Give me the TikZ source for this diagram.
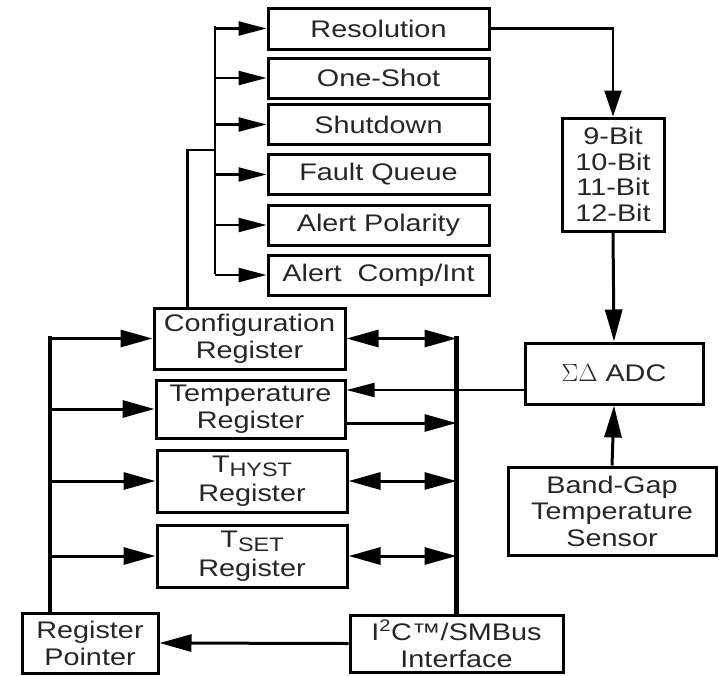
\documentclass[tikz,border=0pt]{standalone}
\usepackage{fontspec}
\setmainfont{Liberation Sans}[FakeStretch=1.2]
\usetikzlibrary{arrows.meta,calc}
\begin{document}
\begin{tikzpicture}[x=1pt,y=-1pt,
  blk/.style={draw, line width=3pt, inner sep=0pt, align=center,
    font=\fontsize{24}{27}\selectfont, text=black!85},
  arr/.style={line width=3pt, -{Triangle[length=32pt,width=17pt]}},
  tarr/.style={line width=2.4pt, -{Triangle[length=28pt,width=14pt]}},
  darr/.style={line width=3pt, {Triangle[length=32pt,width=17pt]}-{Triangle[length=32pt,width=17pt]}},
  bus/.style={line width=4.5pt, line cap=rect},
  tbus/.style={line width=2.8pt, line cap=rect}]
\useasboundingbox (0,0) rectangle (719,675);
% top configuration boxes
\node[blk, minimum width=221pt, minimum height=41pt] (res)   at (378.5,28.5) {Resolution};
\node[blk, minimum width=221pt, minimum height=40pt] (one)   at (378.5,78) {One-Shot};
\node[blk, minimum width=221pt, minimum height=40pt] (shut)  at (378.5,124.5) {Shutdown};
\node[blk, minimum width=221pt, minimum height=40pt] (fault) at (378.5,174.5) {Fault Queue};
\node[blk, minimum width=221pt, minimum height=40pt] (pol)   at (378.5,225) {Alert Polarity};
\node[blk, minimum width=221pt, minimum height=40pt] (comp)  at (378.5,275) {Alert\ \ Comp/Int};
% right side
\node[blk, minimum width=102pt, minimum height=113pt, font=\fontsize{24}{25.5}\selectfont] (bits) at (613,174.5) {9-Bit\\10-Bit\\11-Bit\\12-Bit};
\node[blk, minimum width=178pt, minimum height=61pt] (adc) at (614,373.5) {$\Sigma\Delta$ ADC};
\node[blk, minimum width=208pt, minimum height=88pt, font=\fontsize{24}{26.5}\selectfont] (bg) at (612,511) {Band-Gap\\Temperature\\Sensor};
% registers
\node[blk, minimum width=191pt, minimum height=61pt] (cfg)   at (249.5,338.5) {Configuration\\Register};
\node[blk, minimum width=189pt, minimum height=58pt] (temp)  at (250.5,409) {Temperature\\Register};
\node[blk, minimum width=190pt, minimum height=62pt, font=\fontsize{24}{29}\selectfont] (thyst) at (252,481) {T\raisebox{-4pt}{\fontsize{19.5}{19.5}\selectfont HYST}\\Register};
\node[blk, minimum width=190pt, minimum height=62pt, font=\fontsize{24}{29}\selectfont] (tset)  at (252,556) {T\raisebox{-4pt}{\fontsize{19.5}{19.5}\selectfont SET}\\Register};
\node[blk, minimum width=136pt, minimum height=60pt] (ptr)   at (90,643) {Register\\Pointer};
\node[blk, minimum width=213pt, minimum height=57pt] (i2c)   at (456.5,643.5) {I\textsuperscript{2}C™/SMBus\\Interface};
% coordinates
\coordinate (bt) at (215,27);
\coordinate (bb) at (215,273);
\coordinate (tj) at (215,150);
\coordinate (lb) at (50,338.5);
\coordinate (adcout) at (525,390);
\coordinate (tempout) at (345,423);
% top bus
\draw[tbus] (bt) -- (bb);
\foreach \n in {res,one,shut,fault,pol,comp}
  \draw[tarr] (\n.west -| bt) -- (\n.west);
\draw[line width=2.4pt] ($(cfg.north west)+(35,0)$) |- (tj);
% resolution path
\draw[line width=2.4pt, -{Triangle[length=26pt,width=17pt]}] (res.east) -| (bits.north);
\draw[arr] (bits.south) -- (adc.north);
\draw[arr] (bg.north) -- (adc.south);
\draw[line width=2.2pt, -{Triangle[length=28pt,width=14pt]}] (adcout) -- (adcout -| temp.east);
% left bus
\draw[bus] (ptr.north -| lb) -- (lb);
\foreach \n in {cfg,temp,thyst,tset}
  \draw[arr] (\n.west -| lb) -- (\n.west);
% right bus
\draw[bus] (i2c.north) -- (i2c.north |- cfg.east);
\draw[darr] (cfg.east) -- (cfg.east -| i2c.north);
\draw[arr] (tempout) -- (tempout -| i2c.north);
\draw[darr] (thyst.east) -- (thyst.east -| i2c.north);
\draw[darr] (tset.east) -- (tset.east -| i2c.north);
\draw[arr] (i2c.west) -- (ptr.east);
\end{tikzpicture}
\end{document}
